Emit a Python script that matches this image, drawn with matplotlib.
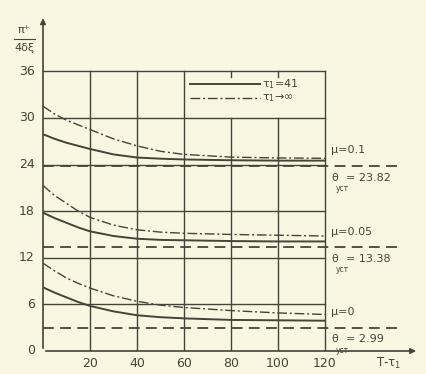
import matplotlib.pyplot as plt
import numpy as np

plt.rcParams['font.family'] = ['Liberation Sans Narrow', 'DejaVu Sans']

# values
x_pts = [0, 5, 10, 15, 20, 30, 40, 50, 60, 80, 100, 120]
solid_01 = [27.9, 27.3, 26.8, 26.4, 26.0, 25.3, 24.9, 24.75, 24.65, 24.55, 24.5, 24.5]
dashdot_01 = [31.5, 30.5, 29.7, 29.1, 28.5, 27.3, 26.4, 25.7, 25.3, 24.95, 24.85, 24.8]
solid_005 = [17.8, 17.1, 16.5, 15.9, 15.4, 14.8, 14.45, 14.3, 14.25, 14.15, 14.1, 14.1]
dashdot_005 = [21.3, 20.0, 19.0, 18.0, 17.2, 16.2, 15.6, 15.3, 15.15, 15.0, 14.9, 14.8]
solid_0 = [8.2, 7.5, 6.9, 6.3, 5.8, 5.1, 4.6, 4.35, 4.2, 4.0, 3.95, 3.9]
dashdot_0 = [11.3, 10.3, 9.4, 8.7, 8.1, 7.1, 6.4, 5.9, 5.6, 5.2, 4.9, 4.7]
theta = [23.82, 13.38, 2.99]
mu_labels = ['μ=0.1', 'μ=0.05', 'μ=0']
x_ticks = [20, 40, 60, 80, 100, 120]
y_ticks = [0, 6, 12, 18, 24, 30, 36]

bg = '#f9f6e2'
ink = '#45443a'

fig = plt.figure(figsize=(4.26, 3.74), dpi=100, facecolor=bg)
ax = fig.add_axes([43 / 426, 23 / 374, 377 / 426, 341 / 374])
ax.set_facecolor(bg)
ax.set_xlim(0, 377 / 2.35)
ax.set_ylim(0, 341 / 7.77)
ax.axis('off')

# grid
for xv in x_ticks:
    top = 30 if xv in (80, 100) else 36
    ax.plot([xv, xv], [0, top], color=ink, lw=1.0)
    if xv in (80, 100):
        ax.plot([xv, xv], [35.3, 36], color=ink, lw=1.0)
for yv in y_ticks[1:]:
    ax.plot([0, 120], [yv, yv], color=ink, lw=1.0)

# axes with arrows
ax.annotate('', xy=(160, 0), xytext=(0, 0),
            arrowprops=dict(arrowstyle='-|>', color=ink, lw=1.2, mutation_scale=8))
ax.annotate('', xy=(0, 43.2), xytext=(0, 0),
            arrowprops=dict(arrowstyle='-|>', color=ink, lw=1.2, mutation_scale=8))

# steady values
for th in theta:
    ax.plot([0, 151], [th, th], color=ink, lw=1.3, dashes=(6, 3.5))

# curves
for s, d in [(solid_01, dashdot_01), (solid_005, dashdot_005), (solid_0, dashdot_0)]:
    ax.plot(x_pts, s, color=ink, lw=1.4)
    ax.plot(x_pts, d, color=ink, lw=1.0, dashes=(7, 2, 1.5, 2))

# legend drawn inside the top-right grid cell
ax.plot([62.5, 92.5], [34.4, 34.4], color=ink, lw=1.4)
ax.plot([62.5, 92.5], [32.6, 32.6], color=ink, lw=1.0, dashes=(7, 2, 1.5, 2))
ax.text(93.2, 34.4, 'τ$_1$=41', color=ink, fontsize=8, va='center')
ax.text(93.2, 32.6, 'τ$_1$→∞', color=ink, fontsize=8, va='center')

# curve labels on the right
for th, lab, dy in zip(theta, mu_labels, [2.0, 1.9, 2.0]):
    ax.text(122.5, th + dy, lab, color=ink, fontsize=8, va='center')
    ax.text(122.5, th - 1.5, 'θ', color=ink, fontsize=8, va='center')
    ax.text(124.5, th - 2.9, 'уст', color=ink, fontsize=5.5, va='center')
    ax.text(129, th - 1.5, '= %.2f' % th, color=ink, fontsize=8, va='center')

# tick labels
for xv in x_ticks:
    ax.text(xv, -0.8, str(xv), color=ink, fontsize=9, ha='center', va='top')
for yv in y_ticks:
    ax.text(-3.5, yv, str(yv), color=ink, fontsize=9, ha='right', va='center')

ax.text(147, -1.6, 'T-τ$_1$', color=ink, fontsize=8.5, ha='center', va='center')
ax.text(-8, 41.3, 'π⁺', color=ink, fontsize=8, ha='center', va='center')
ax.plot([-12.5, -3.5], [40.2, 40.2], color=ink, lw=0.8, clip_on=False)
ax.text(-8, 39.0, '4δξ', color=ink, fontsize=8, ha='center', va='center')

fig.savefig('out.png', dpi=100, facecolor=bg)
